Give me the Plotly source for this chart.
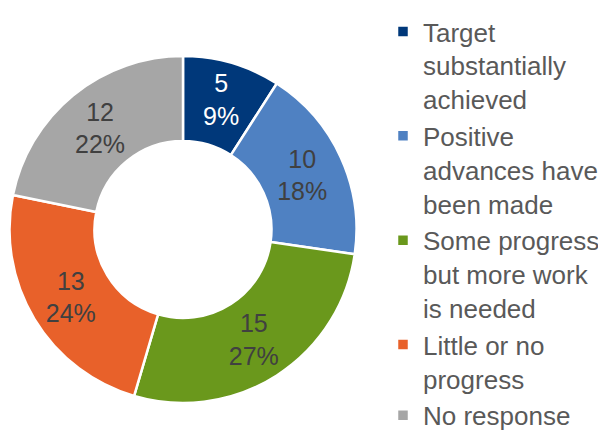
import plotly.graph_objects as go

categories = [
    "Target<br>substantially<br>achieved",
    "Positive<br>advances have<br>been made",
    "Some progress<br>but more work<br>is needed",
    "Little or no<br>progress",
    "No response",
]
values = [5, 10, 15, 13, 12]
colors = ["#00387A", "#4F81C2", "#6A981C", "#E8612A", "#A6A6A6"]
text_colors = ["#FFFFFF", "#404040", "#404040", "#404040", "#404040"]

fig = go.Figure(
    go.Pie(
        labels=categories,
        values=values,
        hole=0.51,
        sort=False,
        direction="clockwise",
        rotation=0,
        marker=dict(colors=colors, line=dict(color="white", width=2.5)),
        texttemplate="%{value}<br>%{percent:.0%}",
        textposition="inside",
        insidetextorientation="horizontal",
        textfont=dict(family="Liberation Sans, Arial", size=25, color=text_colors),
        domain=dict(x=[1 / 606, 349 / 606], y=[41 / 436, 388 / 436]),
        hoverinfo="skip",
    )
)

fig.update_layout(
    width=606,
    height=436,
    margin=dict(l=0, r=0, t=0, b=0),
    paper_bgcolor="white",
    plot_bgcolor="white",
    showlegend=True,
    legend=dict(
        x=375 / 606,
        y=1.0,
        xanchor="left",
        yanchor="top",
        valign="top",
        font=dict(family="Liberation Sans, Arial", size=26, color="#595959"),
        itemwidth=30,
        bgcolor="rgba(0,0,0,0)",
    ),
)

fig.write_html("out.html")
